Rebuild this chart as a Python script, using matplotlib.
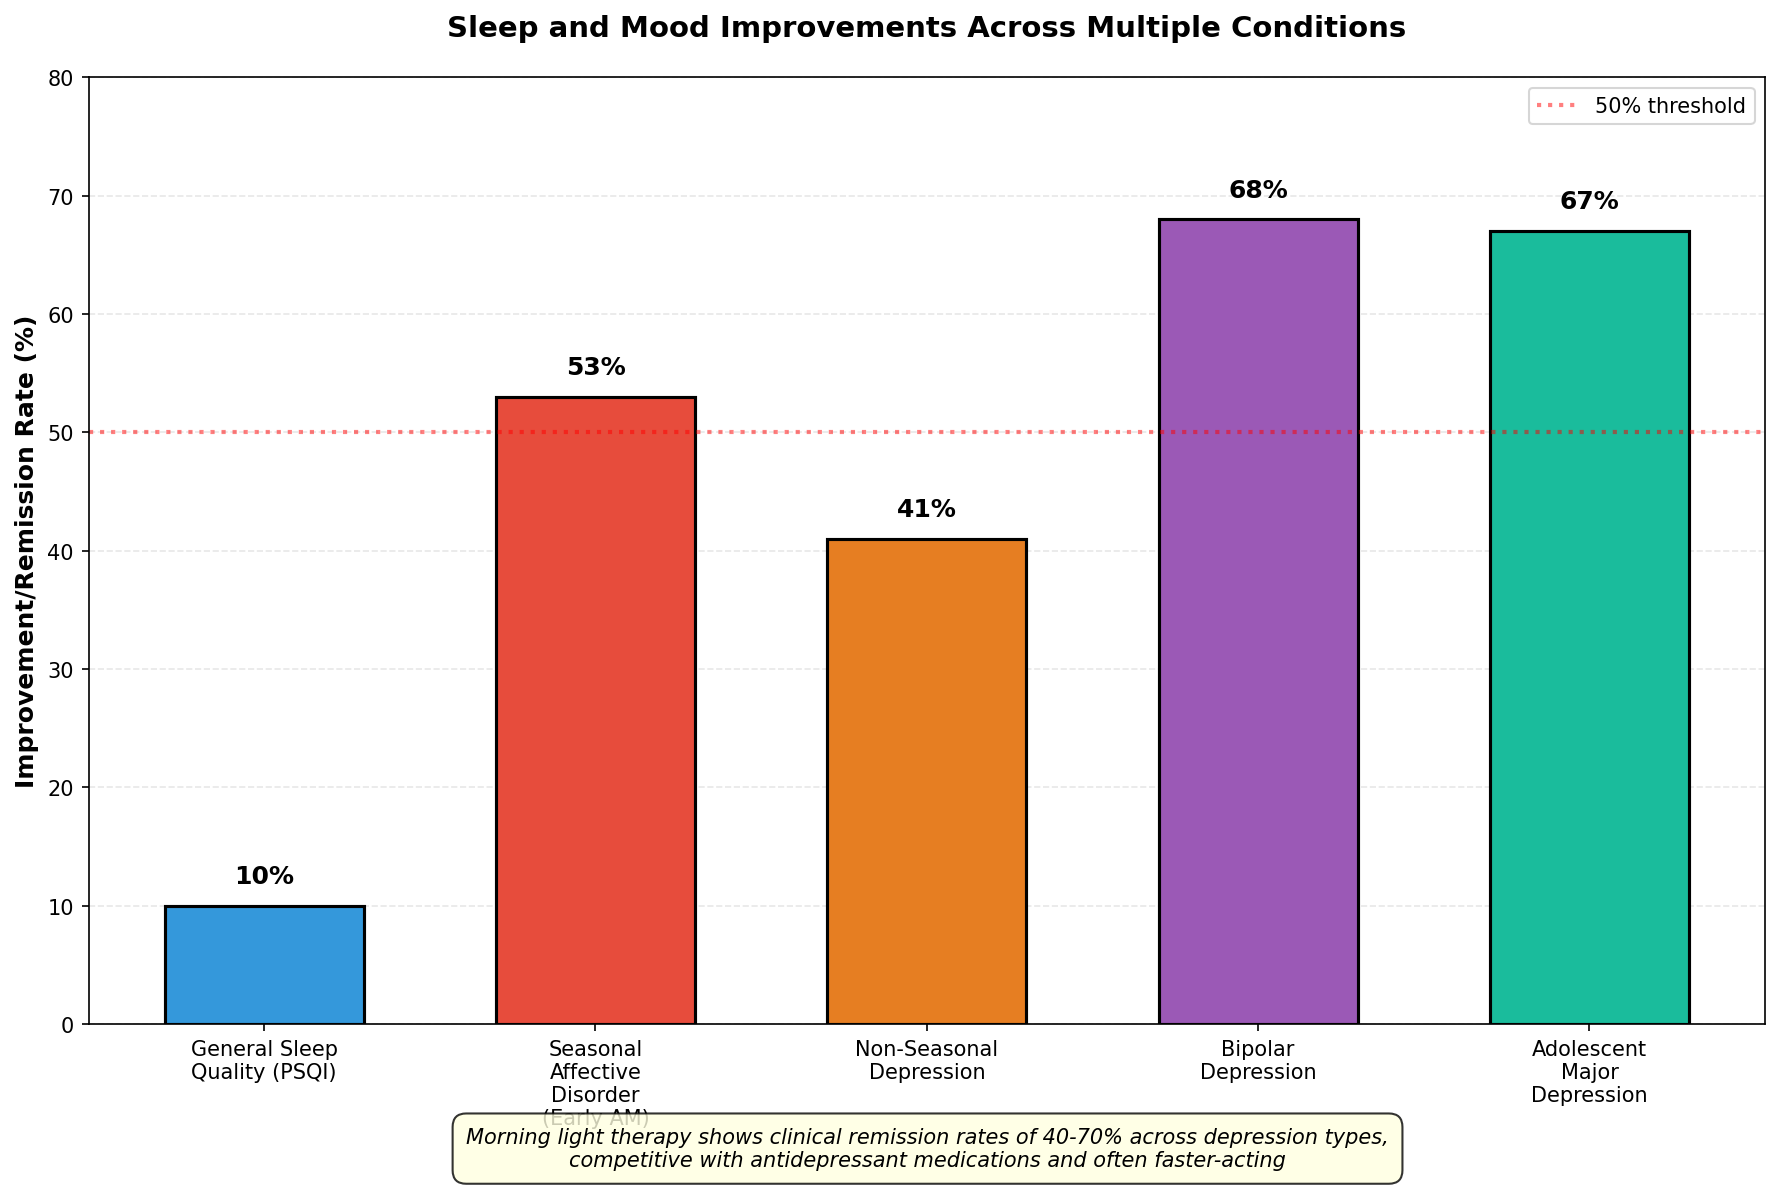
import matplotlib
matplotlib.use("Agg")
import matplotlib.pyplot as plt

categories = ["General Sleep\nQuality (PSQI)", "Seasonal\nAffective\nDisorder\n(Early AM)",
              "Non-Seasonal\nDepression", "Bipolar\nDepression", "Adolescent\nMajor\nDepression"]
values = [10, 53, 41, 68, 67]
colors = ["#3498db", "#e74c3c", "#e67e22", "#9b59b6", "#1abc9c"]
threshold = 50

fig = plt.figure(figsize=(11.88, 7.913), dpi=150)
ax = fig.add_axes([0.0497, 0.1365, 0.9408, 0.7975])

x = range(len(categories))
bars = ax.bar(x, values, width=0.6, color=colors, edgecolor="black", linewidth=1.5)
for b, v in zip(bars, values):
    ax.text(b.get_x() + b.get_width() / 2, v + 1.5, f"{v}%", ha="center", va="bottom",
            fontsize=12, fontweight="bold")
ax.axhline(threshold, color="red", linestyle=":", linewidth=2, alpha=0.5, label="50% threshold")
ax.set_ylim(0, 80)
ax.set_xticks(list(x))
ax.set_xticklabels(categories, fontsize=10)
ax.set_ylabel("Improvement/Remission Rate (%)", fontsize=12, fontweight="bold")
ax.set_title("Sleep and Mood Improvements Across Multiple Conditions", fontsize=14,
             fontweight="bold", pad=20)
ax.set_axisbelow(True)
ax.grid(axis="y", alpha=0.3, linestyle="--")
ax.legend(loc="upper right", fontsize=10)

fig.text(0.5205, 0.0315,
         "Morning light therapy shows clinical remission rates of 40-70% across depression types,\n"
         "competitive with antidepressant medications and often faster-acting",
         ha="center", va="center", fontsize=10, style="italic",
         bbox=dict(boxstyle="round,pad=0.65", facecolor="lightyellow", alpha=0.8, edgecolor="black"))

fig.savefig("out.png", dpi=150)
